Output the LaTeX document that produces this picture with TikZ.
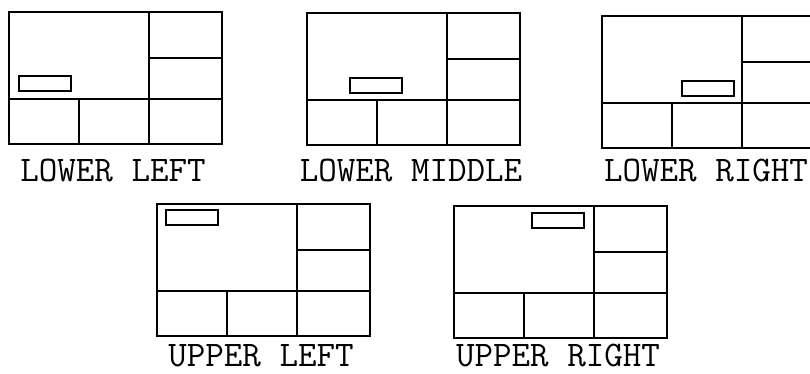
\documentclass[tikz,border=0pt]{standalone}
\usepackage{fontspec}
\begin{document}
\begin{tikzpicture}[x=1pt,y=-1pt,
  frame/.style={line width=2pt,line join=miter},
  winbox/.style={line width=1.5pt},
  caption/.style={font=\fontsize{36}{36}\ttfamily,inner sep=0pt,anchor=base}]
\useasboundingbox (0,0) rectangle (810,373);
\newcommand\drawpanel[7]{%
  \begin{scope}[shift={(#1,#2)}]
    \draw[frame] (0,0) rectangle (213,132);
    \draw[frame] (140,0) -- (140,132);
    \draw[frame] (0,86.5) -- (213,86.5);
    \draw[frame] (140,46) -- (213,46);
    \draw[frame] (70,86.5) -- (70,132);
    \draw[winbox] (#3,#4) rectangle ++(52,15);
    \node[caption] (#6) at (104,#7) {#5};
  \end{scope}}
\begin{scope}
\clip (0,0) rectangle (810,373);
\drawpanel{9}{12}{10}{64}{LOWER LEFT}{ll}{169}
\drawpanel{307}{13}{43}{65}{LOWER MIDDLE}{lm}{168}
\drawpanel{602}{16}{80}{65}{LOWER RIGHT}{lr}{165}
\drawpanel{157}{204}{9}{6}{UPPER LEFT}{ul}{162}
\drawpanel{454}{206}{78}{7}{UPPER RIGHT}{ur}{160}
\end{scope}
\end{tikzpicture}
\end{document}
